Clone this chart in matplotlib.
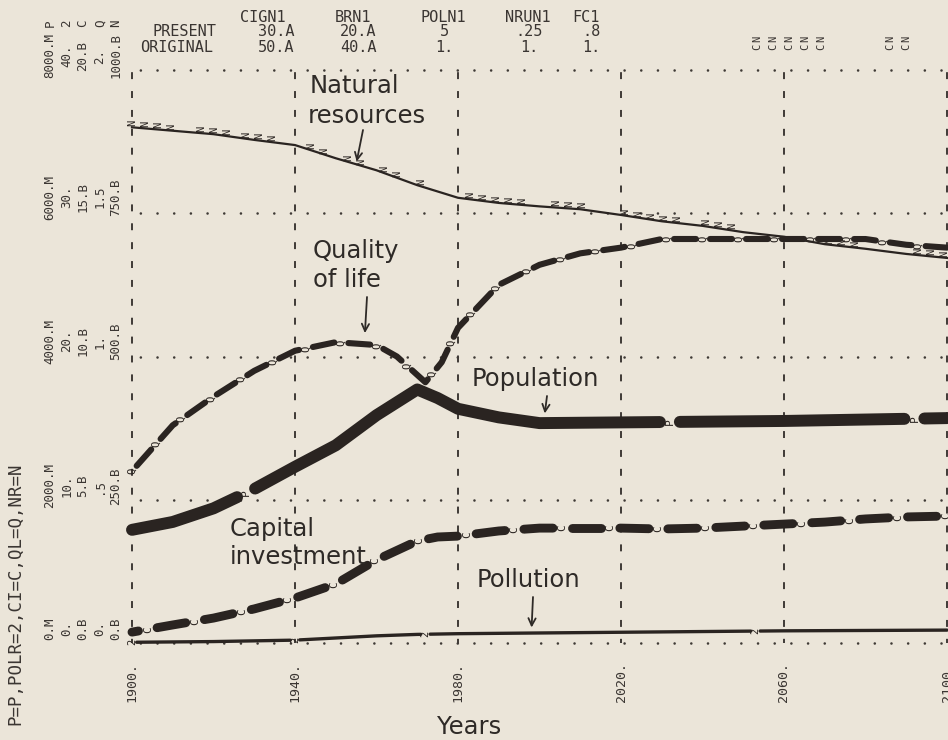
import matplotlib
matplotlib.use("Agg")
import matplotlib.pyplot as plt
import numpy as np

# World2 run, 1900-2100 (policy change in 1970)
years_pop = [1900, 1910, 1920, 1930, 1940, 1950, 1960, 1970, 1975, 1980, 1990, 2000, 2020, 2040, 2060, 2080, 2100]
population = [1580, 1690, 1880, 2150, 2460, 2760, 3180, 3540, 3420, 3270, 3150, 3070, 3080, 3090, 3100, 3120, 3140]  # millions

years_ql = [1900, 1910, 1920, 1930, 1940, 1950, 1960, 1965, 1972, 1976, 1980, 1990, 2000, 2010, 2020,
            2030, 2040, 2050, 2060, 2070, 2080, 2090, 2100]
quality_of_life = [0.60, 0.76, 0.86, 0.95, 1.02, 1.05, 1.04, 1.00, 0.91, 0.98, 1.10, 1.25, 1.32, 1.36, 1.38,
                   1.41, 1.41, 1.41, 1.41, 1.41, 1.41, 1.39, 1.38]

years_nr = list(range(1900, 2101, 10))
natural_resources = [900, 894, 888, 878, 869, 846, 825, 799, 777, 768, 762, 757, 747, 736, 728, 717, 709,
                     696, 688, 679, 672]  # billions

years_ci = [1900, 1910, 1920, 1930, 1940, 1950, 1960, 1970, 1975, 1980, 1990, 2000, 2010, 2020, 2030,
            2040, 2050, 2060, 2070, 2080, 2090, 2100]
capital_investment = [0.38, 0.63, 0.87, 1.19, 1.57, 2.06, 2.90, 3.56, 3.70, 3.73, 3.91, 4.01, 4.01, 4.01,
                      3.98, 4.01, 4.08, 4.15, 4.22, 4.33, 4.40, 4.43]  # billions

years_pol = [1900, 1920, 1940, 1960, 1970, 1980, 2000, 2020, 2060, 2100]
pollution_ratio = [0.05, 0.10, 0.20, 0.50, 0.60, 0.65, 0.70, 0.75, 0.85, 0.90]

# full scale of each variable (top of the printout)
full_scale = {"P": 8000, "2": 40, "C": 20, "Q": 2, "N": 1000}
scale_labels = [
    ["0.M", "0.", "0.B", "0.", "0.B"],
    ["2000.M", "10.", "5.B", ".5", "250.B"],
    ["4000.M", "20.", "10.B", "1.", "500.B"],
    ["6000.M", "30.", "15.B", "1.5", "750.B"],
    ["8000.M", "40.", "20.B", "2.", "1000.B"],
]
series_keys = ["P", "2", "C", "Q", "N"]
year_ticks = [1900, 1940, 1980, 2020, 2060, 2100]

header_rows = [
    [("CIGN1", 240), ("BRN1", 335), ("POLN1", 420), ("NRUN1", 505), ("FC1", 572)],
    [("PRESENT", 152), ("30.A", 258), ("20.A", 340), ("5", 440), (".25", 515), (".8", 582)],
    [("ORIGINAL", 140), ("50.A", 258), ("40.A", 340), ("1.", 435), ("1.", 520), ("1.", 582)],
]

W, H = 948, 740
PAPER = "#ebe5d9"
INK = "#2a2421"
GRID = "#3f3a36"
TXT = "#3a3532"
MONO = "DejaVu Sans Mono"
SANS = "DejaVu Sans"

plt.rcParams["lines.scale_dashes"] = False

fig = plt.figure(figsize=(W / 100, H / 100), dpi=100, facecolor=PAPER)
X0, X1, Y0, Y1 = 132, 947, 643, 70
ax = fig.add_axes([X0 / W, 1 - Y0 / H, (X1 - X0) / W, (Y0 - Y1) / H])
ax.set_xlim(1900, 2100)
ax.set_ylim(0, 4)
ax.axis("off")


def scaled(vals, key):
    return np.asarray(vals, float) / full_scale[key] * 4


def ftext(x, y, s, **kw):
    kw.setdefault("color", TXT)
    return fig.text(x / W, 1 - y / H, s, **kw)


# grid: dashed verticals every 40 years, dotted horizontals per scale step
for yr in year_ticks:
    ax.plot([yr, yr], [0, 4], color=GRID, lw=1.4, ls=(2, (5, 8.6)), clip_on=False)
for g in range(5):
    ax.plot([1900, 2100], [g, g], color=GRID, lw=1.9, ls=(6, (0.01, 12)),
            dash_capstyle="round", clip_on=False)


def gapped(xs, ys, letter, lw, gap, marks_years=None, period=None, offset=0.0,
           fs=8, zorder=3):
    """Draw the curve with gaps; the plot letter sits in each gap."""
    pts = ax.transData.transform(np.column_stack([xs, ys]))
    s = np.concatenate([[0], np.cumsum(np.hypot(*np.diff(pts, axis=0).T))])
    if marks_years is not None:
        marks = np.interp(marks_years, xs, s)
    else:
        marks = np.arange(offset, s[-1], period)
    cut = gap + lw / 0.72
    bounds = [0.0]
    for m in marks:
        bounds += [m - cut / 2, m + cut / 2]
    bounds.append(s[-1])
    inv = ax.transData.inverted()
    for a, b in zip(bounds[0::2], bounds[1::2]):
        a, b = max(a, 0), min(b, s[-1])
        if b - a < 1:
            continue
        ss = np.concatenate([[a], s[(s > a) & (s < b)], [b]])
        d = inv.transform(np.column_stack([np.interp(ss, s, pts[:, 0]), np.interp(ss, s, pts[:, 1])]))
        ax.plot(d[:, 0], d[:, 1], color=INK, lw=lw, solid_capstyle="round",
                solid_joinstyle="round", clip_on=False, zorder=zorder)
    for m in marks:
        d = inv.transform([[np.interp(m, s, pts[:, 0]), np.interp(m, s, pts[:, 1])]])[0]
        ax.text(d[0], d[1], letter, rotation=90, ha="center", va="center",
                fontsize=fs, family=MONO, color=INK, clip_on=False, zorder=zorder)


# natural resources: thin line with the printed N's riding on it
nr_y = scaled(natural_resources, "N")
ax.plot(years_nr, nr_y, color=INK, lw=1.6, clip_on=False, zorder=3)
N_WINDOWS = [(1900, 1911), (1917, 1925), (1928, 1936), (1944, 1950), (1953, 1957), (1962, 1966),
             (1971, 1974), (1983, 1996), (2004, 2012), (2021, 2036), (2041, 2049), (2071, 2079),
             (2093, 2100)]
for a, b in N_WINDOWS:
    for yr in np.arange(a, b + 0.1, 3.2):
        ax.annotate("N", (yr, np.interp(yr, years_nr, nr_y)), xytext=(0, 3),
                    textcoords="offset points", rotation=90, ha="center", va="center",
                    fontsize=7.5, family=MONO, color=INK, zorder=3)

# pollution
gapped(years_pol, scaled(pollution_ratio, "2"), "2", lw=2.4, gap=6,
       marks_years=[1900, 1940, 1972, 2053], fs=7.5)

# capital investment
gapped(years_ci, scaled(capital_investment, "C"), "C", lw=6.4, gap=10, period=48, offset=16, fs=8)

# population
gapped(years_pop, scaled(population, "P"), "P", lw=8.6, gap=8,
       marks_years=[1928, 2032, 2092], fs=8, zorder=4)

# quality of life
gapped(years_ql, scaled(quality_of_life, "Q"), "Q", lw=4.4, gap=8, period=36, offset=0, fs=7.5)

# header of the printout
for row, y in zip(header_rows, [17, 32, 48]):
    for s, x in row:
        ftext(x, y, s, family=MONO, fontsize=11, ha="left", va="center")

# left-hand scale labels (rotated like the printout)
col_x = [50, 67, 83, 100, 116]
grid_py = [643, 500, 355, 211, 70]
for labels, gy in zip(scale_labels, grid_py):
    for s, x in zip(labels, col_x):
        ftext(x, gy - 14, s, family=MONO, fontsize=9, rotation=90, ha="center", va="center",
              rotation_mode="anchor")
for k, x in zip(series_keys, col_x):
    ftext(x, 23, k, family=MONO, fontsize=9, rotation=90, ha="center", va="center",
          rotation_mode="anchor")
ftext(15, 725, "P=P,POLR=2,CI=C,QL=Q,NR=N", family=MONO, fontsize=12.5, rotation=90,
      ha="left", va="center", rotation_mode="anchor")

# overlap marks in the top margin
for x in [757, 773, 789, 805, 821, 890, 906]:
    ftext(x, 39, "N", family=MONO, fontsize=7.5, rotation=90, ha="center", va="center")
    ftext(x, 47, "C", family=MONO, fontsize=7.5, rotation=90, ha="center", va="center")

# year labels
for yr in year_ticks:
    px = X0 + (yr - 1900) / 200 * (X1 - X0)
    ftext(px, 702, f"{yr}.", family=MONO, fontsize=9.5, rotation=90, ha="left",
          va="center", rotation_mode="anchor")

# hand-lettered captions
cap = dict(family=SANS, fontsize=17.5, color="#2e2a27", ha="left", va="baseline")
ftext(310, 93, "Natural", **cap)
ftext(308, 123, "resources", **cap)
ftext(313, 258, "Quality", **cap)
ftext(313, 287, "of life", **cap)
ftext(472, 386, "Population", **cap)
ftext(230, 536, "Capital", **cap)
ftext(230, 564, "investment", **cap)
ftext(477, 587, "Pollution", **cap)
ftext(437, 734, "Years", **cap)

arrow = dict(arrowstyle="->", lw=1.3, color="#2e2a27", mutation_scale=13, shrinkA=0)
ax.annotate("", xy=(1955, np.interp(1955, years_nr, nr_y)), xytext=(363, H - 130),
            textcoords="figure pixels", arrowprops=dict(arrow, shrinkB=2))
ax.annotate("", xy=(1957, np.interp(1957, years_ql, scaled(quality_of_life, "Q"))),
            xytext=(367, H - 297), textcoords="figure pixels", arrowprops=dict(arrow, shrinkB=8))
ax.annotate("", xy=(2001, np.interp(2001, years_pop, scaled(population, "P"))),
            xytext=(547, H - 396), textcoords="figure pixels", arrowprops=dict(arrow, shrinkB=7))
ax.annotate("", xy=(1998, np.interp(1998, years_pol, scaled(pollution_ratio, "2"))),
            xytext=(533, H - 597), textcoords="figure pixels", arrowprops=dict(arrow, shrinkB=4))

fig.savefig("out.png", dpi=100, facecolor=PAPER)
